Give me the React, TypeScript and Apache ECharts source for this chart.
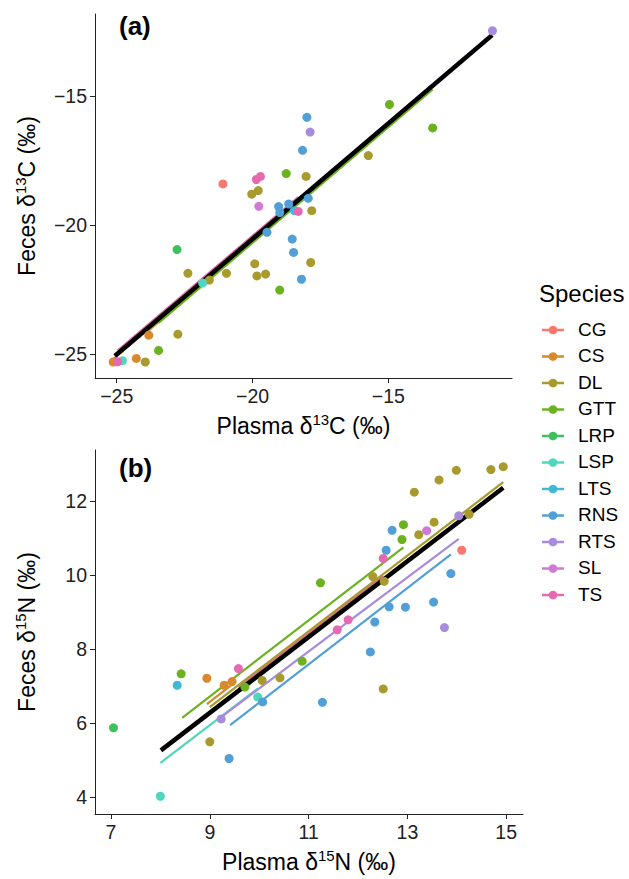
import React, { useEffect, useRef } from "react";
import * as echarts from "echarts";

const SPECIES = ["CG", "CS", "DL", "GTT", "LRP", "LSP", "LTS", "RNS", "RTS", "SL", "TS"];
const COLORS = ["#F8786F", "#D8892B", "#A99A2E", "#6BB21F", "#3FC05E", "#4FD6BD", "#41B8D8", "#529FD8", "#A88BDC", "#D07AD6", "#E769B1"];

// [species, plasma d13C, feces d13C]
const CARBON_POINTS: [string, number, number][] = [
  ["CG", -21.09, -18.4],
  ["CS", -23.82, -24.27], ["CS", -24.28, -25.17], ["CS", -25.13, -25.31],
  ["DL", -15.74, -17.3], ["DL", -18.03, -18.11], ["DL", -20.03, -18.8], ["DL", -19.79, -18.66],
  ["DL", -17.82, -19.44], ["DL", -17.86, -21.45], ["DL", -19.92, -21.5], ["DL", -19.84, -21.97],
  ["DL", -19.52, -21.9], ["DL", -22.38, -21.87], ["DL", -20.96, -21.87], ["DL", -21.59, -22.13],
  ["DL", -22.75, -24.23], ["DL", -23.95, -25.31],
  ["GTT", -18.76, -18.0], ["GTT", -19.0, -22.52], ["GTT", -23.46, -24.86], ["GTT", -14.96, -15.32], ["GTT", -13.37, -16.23],
  ["LRP", -22.78, -20.95],
  ["LSP", -21.84, -22.24], ["LSP", -24.79, -25.26],
  ["LTS", -18.46, -19.44],
  ["RNS", -18.0, -15.82], ["RNS", -18.16, -17.1], ["RNS", -19.04, -19.28], ["RNS", -19.0, -19.51],
  ["RNS", -18.67, -19.18], ["RNS", -17.95, -18.96], ["RNS", -19.47, -20.28], ["RNS", -18.54, -20.54],
  ["RNS", -18.49, -21.06], ["RNS", -18.2, -22.1],
  ["RTS", -17.88, -16.39], ["RTS", -11.17, -12.46],
  ["SL", -19.77, -19.27],
  ["TS", -19.86, -18.23], ["TS", -19.71, -18.11], ["TS", -18.32, -19.47], ["TS", -24.97, -25.3],
];

// [species, plasma d15N, feces d15N]
const NITROGEN_POINTS: [string, number, number][] = [
  ["CG", 14.1, 10.68],
  ["CS", 8.94, 7.22], ["CS", 9.29, 7.03], ["CS", 9.45, 7.13],
  ["DL", 13.14, 12.25], ["DL", 13.64, 12.58], ["DL", 13.99, 12.84], ["DL", 14.69, 12.86],
  ["DL", 14.94, 12.94], ["DL", 14.25, 11.65], ["DL", 13.23, 11.1], ["DL", 13.54, 11.44],
  ["DL", 12.3, 9.97], ["DL", 12.53, 9.84], ["DL", 10.06, 7.16], ["DL", 10.42, 7.23],
  ["DL", 9.0, 5.5], ["DL", 12.51, 6.93],
  ["GTT", 8.42, 7.34], ["GTT", 9.71, 6.98], ["GTT", 12.92, 11.37], ["GTT", 12.89, 10.97], ["GTT", 11.24, 9.8], ["GTT", 10.87, 7.68],
  ["LRP", 7.05, 5.88],
  ["LSP", 9.97, 6.71], ["LSP", 8.0, 4.03],
  ["LTS", 8.34, 7.03],
  ["RNS", 10.07, 6.58], ["RNS", 9.39, 5.05], ["RNS", 12.69, 11.22], ["RNS", 12.57, 10.68],
  ["RNS", 13.88, 10.05], ["RNS", 12.63, 9.15], ["RNS", 12.96, 9.14], ["RNS", 13.53, 9.28],
  ["RNS", 12.34, 8.74], ["RNS", 12.25, 7.93], ["RNS", 11.28, 6.57],
  ["RTS", 9.23, 6.12], ["RTS", 14.04, 11.61], ["RTS", 13.75, 8.59],
  ["SL", 13.39, 11.21],
  ["TS", 9.58, 7.48], ["TS", 12.51, 10.46], ["TS", 11.8, 8.8], ["TS", 11.58, 8.53],
];

// fitted lines: [species, x1, y1, x2, y2]
const CARBON_FITS: [string, number, number, number, number][] = [
  ["CS", -25.13, -25.2, -23.82, -24.03],
  ["LSP", -24.79, -24.87, -21.84, -22.22],
  ["RNS", -19.47, -20.03, -18.0, -18.71],
  ["DL", -23.95, -24.2, -15.74, -16.84],
  ["GTT", -23.46, -23.79, -13.37, -14.74],
  ["RTS", -17.88, -18.58, -11.17, -12.56],
  ["TS", -24.97, -24.87, -18.32, -18.91],
];
const CARBON_OVERALL: [number, number, number, number] = [-25.07, -25.08, -11.18, -12.63];

const NITROGEN_FITS: [string, number, number, number, number][] = [
  ["GTT", 8.44, 6.15, 12.92, 10.76],
  ["TS", 9.58, 6.98, 12.51, 9.98],
  ["DL", 9.0, 6.44, 14.94, 12.52],
  ["CS", 8.94, 6.52, 9.45, 7.05],
  ["LSP", 8.0, 4.93, 9.97, 6.94],
  ["RTS", 9.23, 6.17, 14.04, 10.99],
  ["RNS", 9.41, 5.95, 13.88, 10.57],
];
const NITROGEN_OVERALL: [number, number, number, number] = [8.01, 5.27, 14.94, 12.37];

const X_TICKS_A = [-25, -20, -15];
const Y_TICKS_A = [-25, -20, -15];
const X_TICKS_B = [7, 9, 11, 13, 15];
const Y_TICKS_B = [4, 6, 8, 10, 12];

const FONT = "'Liberation Sans', Arial, Helvetica, sans-serif";
const colorOf = (s: string) => COLORS[SPECIES.indexOf(s)];
const fmt = (v: number) => (v < 0 ? "\u2212" + Math.abs(v) : String(v));

const richName = {
  n: { fontSize: 23, fontFamily: FONT, color: "#000", lineHeight: 28 },
  s: { fontSize: 15, fontFamily: FONT, color: "#000", verticalAlign: "top" as const, lineHeight: 28 },
};

function axisCommon(ticks: number[]) {
  return {
    type: "value" as const,
    splitLine: { show: false },
    axisLine: { show: true, onZero: false, lineStyle: { color: "#222", width: 1 } },
    axisTick: { show: true, length: 5, customValues: ticks, lineStyle: { color: "#222", width: 1 } },
    axisLabel: { customValues: ticks, formatter: fmt, fontSize: 19.5, fontFamily: FONT, color: "#222", margin: 8 },
  };
}

export default function App() {
  const ref = useRef<HTMLDivElement>(null);
  useEffect(() => {
    if (!ref.current) return;
    const chart = echarts.init(ref.current, undefined, { renderer: "svg" });

    const series: any[] = [];
    const fitSeries = (fits: [string, number, number, number, number][], gi: number) => {
      fits.forEach(([s, x1, y1, x2, y2]) => {
        series.push({
          type: "line", name: s, xAxisIndex: gi, yAxisIndex: gi,
          data: [[x1, y1], [x2, y2]], symbol: "none", silent: true, z: 2,
          lineStyle: { color: colorOf(s), width: 2.2 },
        });
      });
    };
    fitSeries(CARBON_FITS, 0);
    fitSeries(NITROGEN_FITS, 1);
    const overall = (o: [number, number, number, number], gi: number) =>
      series.push({
        type: "line", name: "overall", xAxisIndex: gi, yAxisIndex: gi,
        data: [[o[0], o[1]], [o[2], o[3]]], symbol: "none", silent: true, z: 3,
        lineStyle: { color: "#000", width: 4.5 },
      });
    overall(CARBON_OVERALL, 0);
    overall(NITROGEN_OVERALL, 1);

    SPECIES.forEach((s) => {
      series.push({
        type: "scatter", name: s, xAxisIndex: 0, yAxisIndex: 0, z: 4,
        symbolSize: 9, itemStyle: { color: colorOf(s), opacity: 1 },
        data: CARBON_POINTS.filter((p) => p[0] === s).map((p) => [p[1], p[2]]),
      });
      series.push({
        type: "scatter", name: s, xAxisIndex: 1, yAxisIndex: 1, z: 4,
        symbolSize: 9, itemStyle: { color: colorOf(s), opacity: 1 },
        data: NITROGEN_POINTS.filter((p) => p[0] === s).map((p) => [p[1], p[2]]),
      });
    });

    const legendItems: any[] = [];
    legendItems.push({
      type: "text", left: 539, top: 281,
      style: { text: "Species", fontSize: 24, fontFamily: FONT, fill: "#000" },
    });
    SPECIES.forEach((s, i) => {
      const cy = 330 + i * 26.5;
      legendItems.push({
        type: "line", shape: { x1: 542, y1: cy, x2: 564, y2: cy },
        style: { stroke: COLORS[i], lineWidth: 2.5 },
      });
      legendItems.push({ type: "circle", shape: { cx: 553, cy, r: 4.3 }, style: { fill: COLORS[i] } });
      legendItems.push({
        type: "text", left: 578, top: cy - 10.5,
        style: { text: s, fontSize: 19, fontFamily: FONT, fill: "#000" },
      });
    });
    legendItems.push({
      type: "text", left: 119, top: 13,
      style: { text: "(a)", fontSize: 26, fontWeight: "bold", fontFamily: FONT, fill: "#000" },
    });
    legendItems.push({
      type: "text", left: 119, top: 455,
      style: { text: "(b)", fontSize: 26, fontWeight: "bold", fontFamily: FONT, fill: "#000" },
    });

    chart.setOption({
      animation: false,
      backgroundColor: "#fff",
      grid: [
        { left: 95, top: 14, width: 417, height: 364 },
        { left: 95, top: 450, width: 428, height: 364 },
      ],
      xAxis: [
        {
          ...axisCommon(X_TICKS_A), gridIndex: 0, min: -25.8, max: -10.45,
          name: "{n|Plasma δ}{s|13}{n|C (‰)}", nameLocation: "middle", nameGap: 34,
          nameTextStyle: { rich: richName },
        },
        {
          ...axisCommon(X_TICKS_B), gridIndex: 1, min: 6.676, max: 15.34,
          name: "{n|Plasma δ}{s|15}{n|N (‰)}", nameLocation: "middle", nameGap: 34,
          nameTextStyle: { rich: richName },
        },
      ],
      yAxis: [
        {
          ...axisCommon(Y_TICKS_A), gridIndex: 0, min: -25.93, max: -11.81,
          name: "{n|Feces δ}{s|13}{n|C (‰)}", nameLocation: "middle", nameGap: 54, nameRotate: 90,
          nameTextStyle: { rich: richName },
        },
        {
          ...axisCommon(Y_TICKS_B), gridIndex: 1, min: 3.55, max: 13.39,
          name: "{n|Feces δ}{s|15}{n|N (‰)}", nameLocation: "middle", nameGap: 54, nameRotate: 90,
          nameTextStyle: { rich: richName },
        },
      ],
      graphic: legendItems,
      series,
    });
    return () => chart.dispose();
  }, []);
  return <div ref={ref} style={{ width: 629, height: 879, position: "absolute", left: 0, top: 0 }} />;
}
